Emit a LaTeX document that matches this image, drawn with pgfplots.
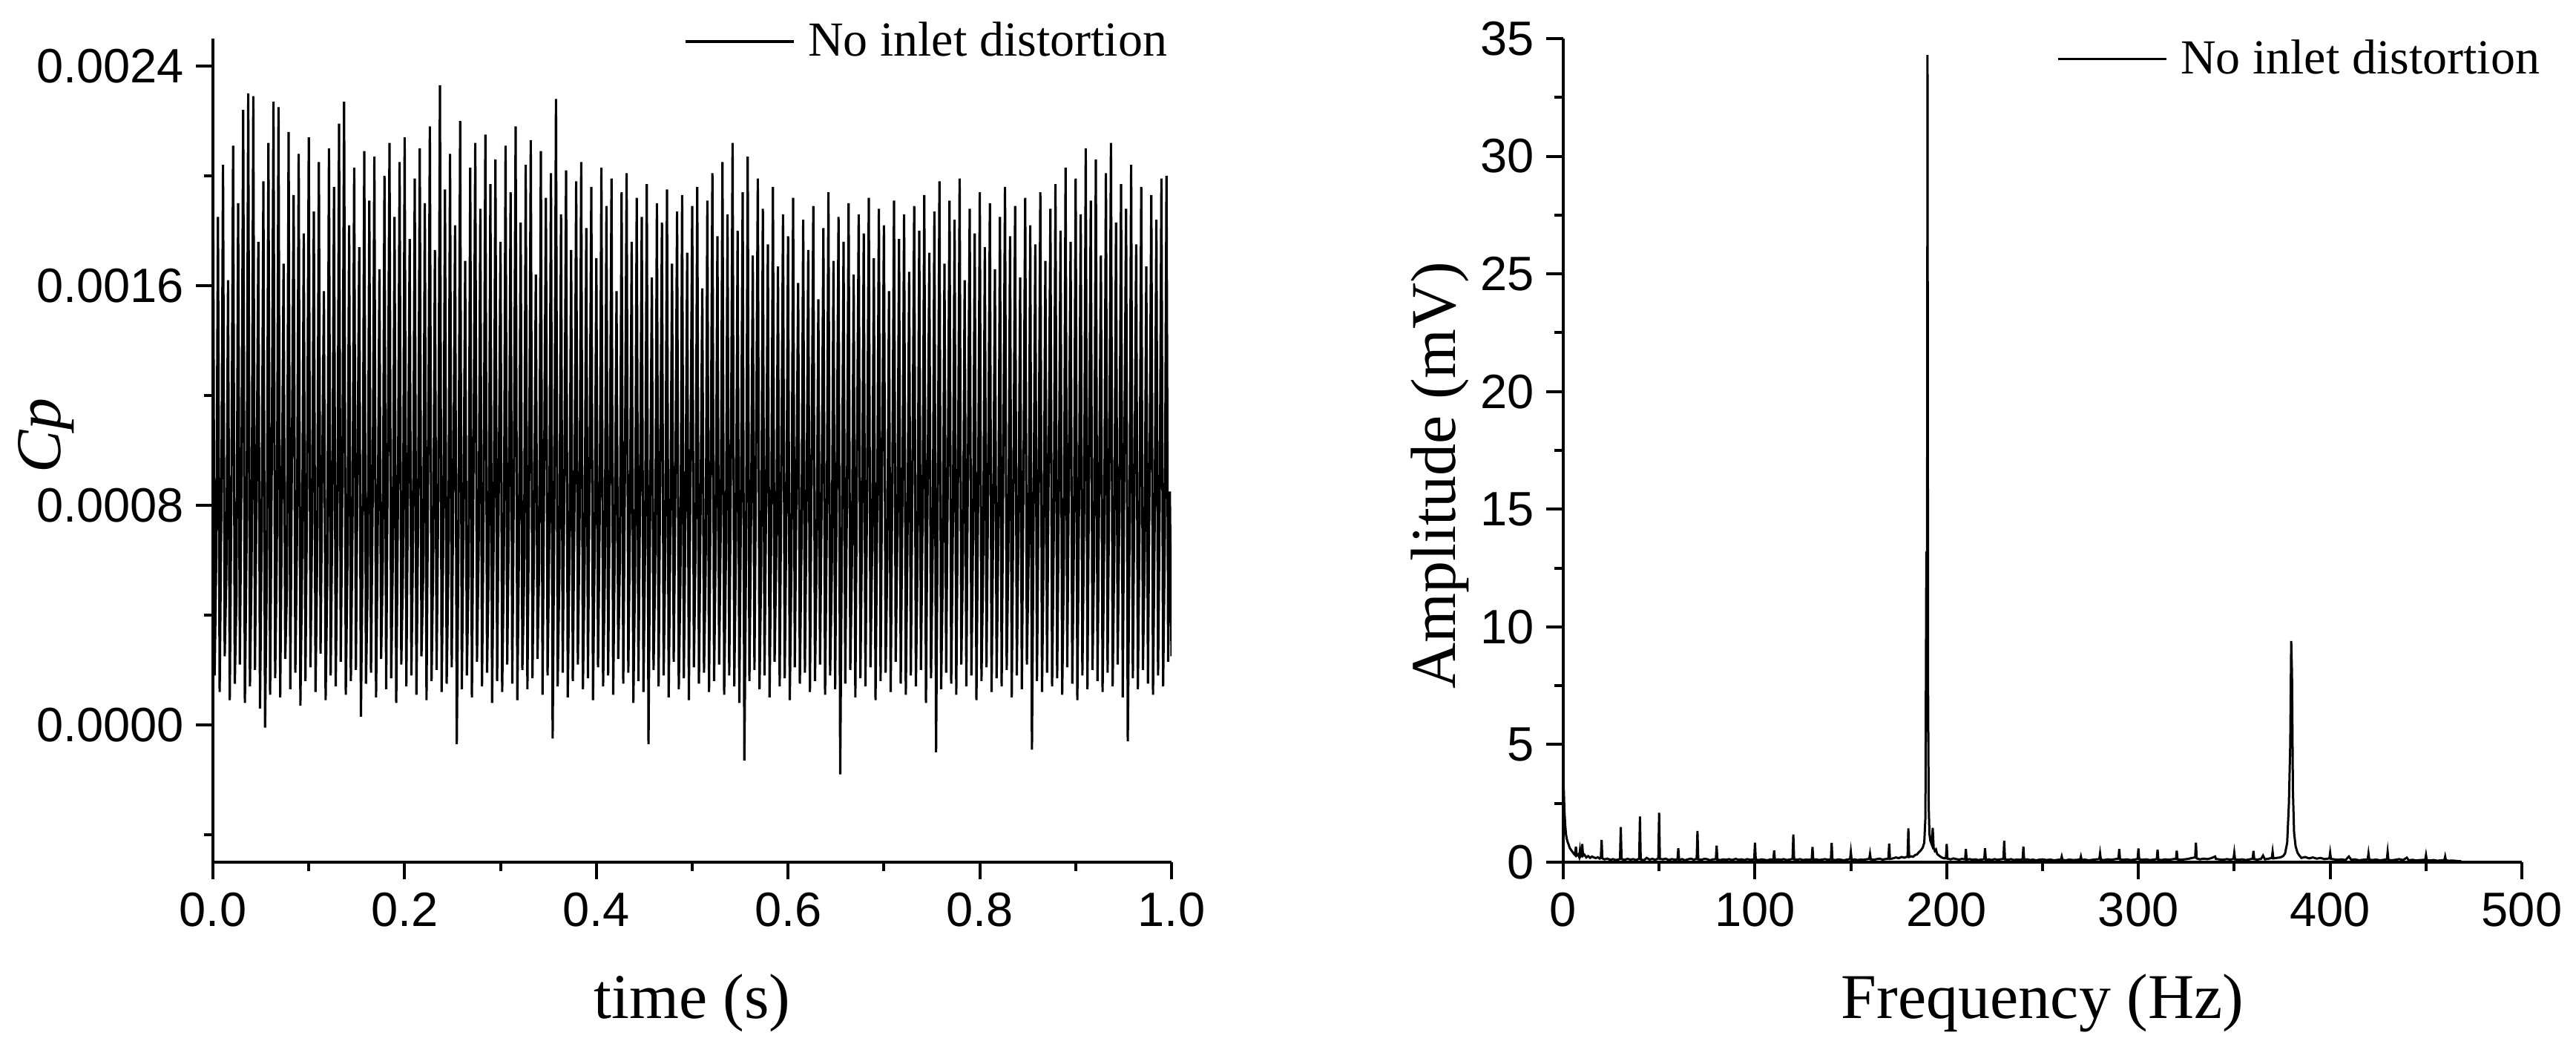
\documentclass[border=0pt]{standalone}
\usepackage{fontspec}
\setmainfont{Liberation Serif}
\setsansfont{Liberation Sans}
\usepackage{pgfplots}
\pgfplotsset{compat=1.18}
\pgfplotsset{
  refaxis/.style={
    scale only axis, width=258.4pt, height=222pt,
    axis lines=left,
    axis line style={-, line width=0.9pt, black},
    every outer x axis line/.append style={-},
    every outer y axis line/.append style={-},
    every inner x axis line/.append style={-},
    every inner y axis line/.append style={-},
    tick align=outside,
    major tick length=4.6pt, minor tick length=2.4pt,
    every tick/.style={line width=0.8pt, black},
    scaled ticks=false,
    /pgf/number format/assume math mode=true,
    tick label style={font=\fontsize{13}{15}\selectfont\sffamily, inner sep=0pt},
    xticklabel shift=3.4pt, yticklabel shift=3pt,
    label style={font=\fontsize{17.2}{20}\selectfont},
    legend style={draw=none, fill=none, inner sep=0pt, outer sep=0pt,
      nodes={inner sep=0pt}, font=\fontsize{13.2}{15}\selectfont},
    legend image code/.code={\draw[#1] (0pt,0pt) -- (29.2pt,0pt); \path (32.8pt,0pt);},
  }
}
\begin{document}
\begin{tikzpicture}
\useasboundingbox (0,0) rectangle (694.4pt,280.6pt);
\begin{axis}[refaxis,
  at={(57.4pt,48.2pt)}, anchor=south west,
  xmin=0, xmax=1, ymin=-0.0005, ymax=0.0025,
  xtick={0,0.2,0.4,0.6,0.8,1}, minor xtick={0.1,0.3,0.5,0.7,0.9},
  ytick={0,0.0008,0.0016,0.0024}, minor ytick={-0.0004,0.0004,0.0012,0.002},
  xticklabel style={/pgf/number format/.cd, fixed, fixed zerofill, precision=1},
  yticklabel style={/pgf/number format/.cd, fixed, fixed zerofill, precision=4},
  xlabel={time (s)}, ylabel={\itshape Cp},
  xlabel style={at={(axis description cs:0.5,-0.1901)}, anchor=base},
  ylabel style={at={(axis description cs:-0.1587,0.518)}, anchor=base},
  legend style={at={(axis description cs:0.9954,0.9964)}, anchor=east},
]
\addplot[black, line width=0.62pt] table[row sep=\\, y index=0, x expr=\coordindex/570] {
cp\\
0.00216\\0.00018\\0.00062\\
0.00185\\0.00012\\0.00078\\
0.00204\\0.00025\\0.00055\\
0.00162\\0.00009\\0.00084\\
0.00211\\0.00015\\0.00047\\
0.00190\\0.00022\\0.00093\\
0.00224\\0.00008\\0.00066\\
0.00230\\0.00014\\0.00058\\
0.00229\\0.00020\\0.00088\\
0.00176\\0.00006\\0.00071\\
0.00198\\-0.00001\\0.00052\\
0.00212\\0.00011\\0.00096\\
0.00227\\0.00017\\0.00063\\
0.00225\\0.00010\\0.00080\\
0.00168\\0.00024\\0.00049\\
0.00216\\0.00013\\0.00101\\
0.00193\\0.00019\\0.00068\\
0.00208\\0.00007\\0.00057\\
0.00179\\0.00016\\0.00085\\
0.00214\\0.00021\\0.00074\\
0.00187\\0.00012\\0.00061\\
0.00205\\0.00026\\0.00092\\
0.00158\\0.00009\\0.00054\\
0.00210\\0.00018\\0.00077\\
0.00196\\0.00014\\0.00066\\
0.00219\\0.00023\\0.00089\\
0.00227\\0.00011\\0.00059\\
0.00182\\0.00016\\0.00072\\
0.00203\\0.00020\\0.00095\\
0.00174\\0.00003\\0.00064\\
0.00209\\0.00015\\0.00051\\
0.00191\\0.00019\\0.00083\\
0.00207\\0.00010\\0.00070\\
0.00166\\0.00024\\0.00058\\
0.00200\\0.00013\\0.00099\\
0.00212\\0.00017\\0.00062\\
0.00185\\0.00008\\0.00079\\
0.00205\\0.00022\\0.00056\\
0.00214\\0.00014\\0.00087\\
0.00177\\0.00018\\0.00067\\
0.00199\\0.00011\\0.00074\\
0.00210\\0.00025\\0.00053\\
0.00190\\0.00009\\0.00094\\
0.00218\\0.00016\\0.00061\\
0.00173\\0.00020\\0.00082\\
0.00233\\0.00012\\0.00069\\
0.00195\\0.00015\\0.00057\\
0.00208\\0.00021\\0.00090\\
0.00182\\-0.00007\\0.00066\\
0.00220\\0.00013\\0.00075\\
0.00169\\0.00018\\0.00055\\
0.00203\\0.00010\\0.00097\\
0.00212\\0.00023\\0.00063\\
0.00188\\0.00014\\0.00081\\
0.00215\\0.00019\\0.00058\\
0.00197\\0.00008\\0.00072\\
0.00206\\0.00016\\0.00088\\
0.00176\\0.00012\\0.00060\\
0.00211\\0.00022\\0.00076\\
0.00194\\0.00015\\0.00093\\
0.00218\\0.00009\\0.00064\\
0.00183\\0.00020\\0.00052\\
0.00204\\0.00013\\0.00085\\
0.00213\\0.00017\\0.00070\\
0.00164\\0.00024\\0.00059\\
0.00209\\0.00011\\0.00096\\
0.00192\\0.00018\\0.00067\\
0.00201\\-0.00005\\0.00078\\
0.00228\\0.00014\\0.00055\\
0.00186\\0.00019\\0.00089\\
0.00202\\0.00010\\0.00062\\
0.00173\\0.00016\\0.00081\\
0.00198\\0.00022\\0.00071\\
0.00205\\0.00013\\0.00057\\
0.00181\\0.00017\\0.00094\\
0.00196\\0.00009\\0.00065\\
0.00170\\0.00021\\0.00076\\
0.00203\\0.00014\\0.00053\\
0.00189\\0.00018\\0.00087\\
0.00199\\0.00011\\0.00068\\
0.00158\\0.00024\\0.00060\\
0.00194\\0.00015\\0.00092\\
0.00201\\0.00019\\0.00073\\
0.00176\\0.00008\\0.00056\\
0.00192\\0.00016\\0.00084\\
0.00185\\0.00012\\0.00066\\
0.00197\\-0.00007\\0.00079\\
0.00163\\0.00020\\0.00058\\
0.00190\\0.00014\\0.00095\\
0.00183\\0.00018\\0.00063\\
0.00195\\0.00010\\0.00071\\
0.00168\\0.00023\\0.00086\\
0.00187\\0.00013\\0.00054\\
0.00193\\0.00017\\0.00077\\
0.00172\\0.00009\\0.00098\\
0.00189\\0.00021\\0.00065\\
0.00196\\0.00015\\0.00080\\
0.00159\\0.00019\\0.00057\\
0.00191\\0.00012\\0.00090\\
0.00201\\0.00016\\0.00068\\
0.00178\\0.00022\\0.00074\\
0.00205\\0.00011\\0.00059\\
0.00186\\0.00018\\0.00093\\
0.00212\\0.00014\\0.00066\\
0.00180\\0.00008\\0.00082\\
0.00194\\-0.00013\\0.00061\\
0.00207\\0.00016\\0.00076\\
0.00171\\0.00020\\0.00100\\
0.00199\\0.00013\\0.00057\\
0.00188\\0.00018\\0.00085\\
0.00175\\0.00010\\0.00070\\
0.00196\\0.00023\\0.00063\\
0.00167\\0.00014\\0.00091\\
0.00186\\0.00017\\0.00075\\
0.00178\\0.00009\\0.00058\\
0.00192\\0.00021\\0.00088\\
0.00161\\0.00015\\0.00067\\
0.00184\\0.00019\\0.00079\\
0.00173\\0.00012\\0.00096\\
0.00189\\0.00016\\0.00062\\
0.00155\\0.00022\\0.00084\\
0.00181\\0.00011\\0.00071\\
0.00194\\0.00018\\0.00055\\
0.00169\\0.00013\\0.00094\\
0.00185\\-0.00018\\0.00068\\
0.00176\\0.00015\\0.00081\\
0.00190\\0.00020\\0.00060\\
0.00164\\0.00010\\0.00097\\
0.00186\\0.00017\\0.00073\\
0.00179\\0.00014\\0.00086\\
0.00192\\0.00021\\0.00064\\
0.00170\\0.00009\\0.00078\\
0.00188\\0.00016\\0.00101\\
0.00182\\0.00019\\0.00059\\
0.00158\\0.00012\\0.00089\\
0.00191\\0.00023\\0.00070\\
0.00177\\0.00015\\0.00083\\
0.00186\\0.00011\\0.00066\\
0.00165\\0.00018\\0.00095\\
0.00189\\0.00014\\0.00061\\
0.00180\\0.00020\\0.00077\\
0.00193\\0.00008\\0.00088\\
0.00172\\0.00017\\0.00064\\
0.00187\\-0.00010\\0.00080\\
0.00198\\0.00013\\0.00056\\
0.00168\\0.00019\\0.00093\\
0.00191\\0.00015\\0.00072\\
0.00184\\0.00011\\0.00085\\
0.00199\\0.00022\\0.00062\\
0.00162\\0.00014\\0.00099\\
0.00188\\0.00018\\0.00069\\
0.00179\\0.00009\\0.00081\\
0.00194\\0.00016\\0.00058\\
0.00174\\0.00021\\0.00090\\
0.00190\\0.00012\\0.00075\\
0.00166\\0.00017\\0.00067\\
0.00185\\0.00014\\0.00096\\
0.00196\\0.00020\\0.00063\\
0.00178\\0.00010\\0.00084\\
0.00189\\0.00018\\0.00071\\
0.00163\\0.00013\\0.00092\\
0.00192\\0.00022\\0.00060\\
0.00182\\-0.00009\\0.00078\\
0.00175\\0.00016\\0.00087\\
0.00194\\0.00012\\0.00065\\
0.00169\\0.00019\\0.00098\\
0.00188\\0.00014\\0.00070\\
0.00197\\0.00017\\0.00082\\
0.00180\\0.00011\\0.00059\\
0.00203\\0.00021\\0.00094\\
0.00176\\0.00015\\0.00068\\
0.00199\\0.00009\\0.00080\\
0.00186\\0.00018\\0.00073\\
0.00210\\0.00013\\0.00097\\
0.00191\\0.00020\\0.00062\\
0.00206\\0.00016\\0.00086\\
0.00171\\0.00012\\0.00069\\
0.00201\\0.00019\\0.00091\\
0.00212\\0.00014\\0.00064\\
0.00183\\0.00022\\0.00078\\
0.00197\\0.00010\\0.00102\\
0.00188\\-0.00006\\0.00066\\
0.00204\\0.00017\\0.00089\\
0.00175\\0.00013\\0.00072\\
0.00196\\0.00020\\0.00060\\
0.00167\\0.00015\\0.00095\\
0.00193\\0.00011\\0.00074\\
0.00184\\0.00018\\0.00083\\
0.00199\\0.00014\\0.00067\\
0.00200\\0.00023\\0.00085\\
0.00025\\
};
\addlegendentry{No inlet distortion}
\end{axis}
\begin{axis}[refaxis,
  at={(421.4pt,48.2pt)}, anchor=south west,
  xmin=0, xmax=500, ymin=0, ymax=35,
  xtick={0,100,200,300,400,500}, minor xtick={50,150,250,350,450},
  ytick={0,5,10,15,20,25,30,35}, minor ytick={2.5,7.5,12.5,17.5,22.5,27.5,32.5},
  xlabel={Frequency (Hz)}, ylabel={Amplitude (mV)},
  xlabel style={at={(axis description cs:0.5,-0.1901)}, anchor=base},
  ylabel style={at={(axis description cs:-0.1124,0.470)}, anchor=base},
  legend style={at={(axis description cs:1.0186,0.9748)}, anchor=east},
]
\addplot[black, line width=0.6pt] table[row sep=\\] {
f a\\
0 3.4\\ 0.3 3.0\\ 0.6 2.2\\ 1.0 1.6\\ 1.4 1.2\\ 1.8 1.0\\ 2.3 0.85\\ 2.8 0.75\\ 3.3 0.62\\ 3.8 0.55\\
4.4 0.48\\ 5.0 0.42\\ 5.6 0.35\\ 6.2 0.30\\ 6.6 0.66\\ 7.0 0.28\\ 7.8 0.33\\ 8.3 0.22\\ 8.7 0.50\\ 9.1 0.25\\
9.6 0.30\\ 9.9 0.77\\ 10.3 0.27\\ 11.0 0.32\\ 12.0 0.20\\ 13.0 0.26\\ 14.0 0.18\\ 15.0 0.24\\ 16.0 0.20\\ 17.0 0.17\\
18.0 0.21\\ 19.0 0.15\\ 19.6 0.18\\ 20.0 0.95\\ 20.4 0.16\\ 21.5 0.12\\ 23.0 0.15\\ 24.5 0.10\\ 26.0 0.13\\ 27.5 0.09\\
29.0 0.12\\ 29.6 0.14\\ 30.0 1.49\\ 30.4 0.13\\ 32.0 0.10\\ 33.5 0.14\\ 35.0 0.11\\ 36.5 0.13\\ 38.0 0.09\\ 39.6 0.15\\
40.0 1.94\\ 40.4 0.12\\ 42.0 0.08\\ 43.5 0.18\\ 45.0 0.11\\ 46.5 0.14\\ 48.0 0.10\\ 49.6 0.16\\ 50.0 2.10\\ 50.4 0.14\\
52.0 0.12\\ 53.5 0.15\\ 55.0 0.09\\ 56.5 0.13\\ 58.0 0.11\\ 59.6 0.12\\ 60.0 0.59\\ 60.4 0.10\\ 62.0 0.13\\ 63.5 0.08\\
65.0 0.12\\ 66.5 0.15\\ 68.0 0.11\\ 69.6 0.14\\ 70.0 1.33\\ 70.4 0.12\\ 72.0 0.10\\ 73.5 0.14\\ 75.0 0.13\\ 76.5 0.08\\
78.0 0.12\\ 79.6 0.13\\ 80.0 0.70\\ 80.4 0.11\\ 82.0 0.09\\ 83.5 0.12\\ 85.0 0.10\\ 86.5 0.13\\ 88.0 0.09\\ 90.0 0.14\\
91.5 0.10\\ 93.0 0.12\\ 94.5 0.09\\ 96.0 0.13\\ 97.5 0.10\\ 99.6 0.12\\ 100.0 0.83\\ 100.4 0.11\\ 102.0 0.09\\ 103.5 0.12\\
105.0 0.10\\ 106.5 0.08\\ 108.0 0.12\\ 109.6 0.10\\ 110.0 0.50\\ 110.4 0.09\\ 112.0 0.12\\ 113.5 0.10\\ 115.0 0.13\\ 116.5 0.09\\
118.0 0.11\\ 119.6 0.14\\ 120.0 1.18\\ 120.4 0.12\\ 122.0 0.10\\ 123.5 0.13\\ 125.0 0.09\\ 126.5 0.11\\ 128.0 0.10\\ 129.6 0.12\\
130.0 0.65\\ 130.4 0.10\\ 132.0 0.12\\ 133.5 0.09\\ 135.0 0.11\\ 136.5 0.13\\ 138.0 0.10\\ 139.6 0.12\\ 140.0 0.82\\ 140.4 0.11\\
142.0 0.09\\ 143.5 0.12\\ 145.0 0.10\\ 146.5 0.08\\ 148.0 0.11\\ 149.6 0.13\\ 150.0 0.43\\ 150.4 0.10\\ 152.0 0.12\\ 153.5 0.09\\
155.0 0.11\\ 156.5 0.10\\ 158.0 0.12\\ 159.6 0.14\\ 160.0 0.35\\ 160.4 0.12\\ 162.0 0.10\\ 163.5 0.13\\ 165.0 0.15\\ 166.5 0.11\\
168.0 0.13\\ 169.6 0.15\\ 170.0 0.79\\ 170.4 0.14\\ 172.0 0.16\\ 173.5 0.20\\ 175.0 0.17\\ 176.5 0.22\\ 178.0 0.19\\ 179.6 0.24\\
180.0 1.44\\ 180.4 0.22\\ 181.5 0.25\\ 182.5 0.23\\ 183.5 0.30\\ 184.5 0.33\\ 185.5 0.42\\ 186.5 0.50\\ 187.5 0.62\\ 188.3 0.83\\
188.9 1.9\\ 189.4 13.2\\ 189.7 6.5\\ 190.0 34.3\\ 190.3 7.0\\ 190.6 2.4\\ 191.0 1.2\\ 191.5 0.9\\ 192.2 0.75\\ 192.7 1.46\\
193.2 0.6\\ 193.8 0.48\\ 194.4 0.54\\ 195.0 0.35\\ 196.0 0.28\\ 197.0 0.22\\ 198.0 0.18\\ 199.0 0.16\\ 199.6 0.17\\ 200.0 0.77\\
200.4 0.15\\ 202.0 0.12\\ 203.5 0.16\\ 205.0 0.13\\ 206.5 0.11\\ 208.0 0.14\\ 209.6 0.12\\ 210.0 0.56\\ 210.4 0.11\\ 212.0 0.13\\
213.5 0.10\\ 215.0 0.12\\ 216.5 0.09\\ 218.0 0.11\\ 219.6 0.13\\ 220.0 0.59\\ 220.4 0.10\\ 222.0 0.12\\ 223.5 0.09\\ 225.0 0.13\\
226.5 0.10\\ 228.0 0.12\\ 229.6 0.14\\ 230.0 0.91\\ 230.4 0.12\\ 232.0 0.10\\ 233.5 0.13\\ 235.0 0.09\\ 236.5 0.11\\ 238.0 0.10\\
239.6 0.12\\ 240.0 0.66\\ 240.4 0.10\\ 242.0 0.12\\ 243.5 0.09\\ 245.0 0.11\\ 246.5 0.08\\ 248.0 0.10\\ 250.0 0.12\\ 252.0 0.09\\
254.0 0.11\\ 256.0 0.08\\ 258.0 0.10\\ 259.6 0.11\\ 260.0 0.24\\ 260.4 0.10\\ 262.0 0.08\\ 264.0 0.11\\ 266.0 0.09\\ 268.0 0.10\\
269.6 0.11\\ 270.0 0.24\\ 270.4 0.09\\ 272.0 0.11\\ 274.0 0.08\\ 276.0 0.10\\ 278.0 0.12\\ 279.6 0.13\\ 280.0 0.37\\ 280.4 0.11\\
282.0 0.09\\ 284.0 0.12\\ 286.0 0.10\\ 288.0 0.13\\ 289.6 0.15\\ 290.0 0.56\\ 290.4 0.12\\ 292.0 0.10\\ 294.0 0.12\\ 296.0 0.09\\
298.0 0.11\\ 299.6 0.14\\ 300.0 0.58\\ 300.4 0.12\\ 302.0 0.10\\ 304.0 0.12\\ 306.0 0.09\\ 308.0 0.11\\ 309.6 0.13\\ 310.0 0.53\\
310.4 0.11\\ 312.0 0.09\\ 314.0 0.12\\ 316.0 0.10\\ 318.0 0.13\\ 319.6 0.14\\ 320.0 0.49\\ 320.4 0.12\\ 322.0 0.10\\ 324.0 0.12\\
326.0 0.14\\ 328.0 0.18\\ 329.6 0.20\\ 330.0 0.83\\ 330.4 0.16\\ 332.0 0.12\\ 334.0 0.15\\ 336.0 0.13\\ 338.0 0.17\\ 340.0 0.24\\
340.4 0.14\\ 342.0 0.12\\ 344.0 0.10\\ 346.0 0.13\\ 348.0 0.11\\ 349.6 0.14\\ 350.0 0.40\\ 350.4 0.12\\ 352.0 0.10\\ 354.0 0.12\\
356.0 0.09\\ 358.0 0.12\\ 359.6 0.15\\ 360.0 0.48\\ 360.4 0.13\\ 362.0 0.11\\ 364.0 0.14\\ 365.0 0.28\\ 366.0 0.12\\ 368.0 0.15\\
369.6 0.18\\ 370.0 0.44\\ 370.4 0.16\\ 372.0 0.18\\ 374.0 0.20\\ 375.5 0.26\\ 376.5 0.37\\ 377.6 0.83\\ 378.5 2.5\\ 379.2 5.0\\
379.7 9.4\\ 380.1 8.0\\ 380.6 3.0\\ 381.2 1.25\\ 382.0 0.67\\ 383.0 0.40\\ 383.8 0.30\\ 385.0 0.18\\ 387.0 0.22\\ 389.0 0.16\\
391.0 0.20\\ 393.0 0.15\\ 395.0 0.18\\ 397.0 0.13\\ 399.6 0.16\\ 400.0 0.40\\ 400.4 0.14\\ 402.0 0.12\\ 404.0 0.10\\ 406.0 0.12\\
408.0 0.09\\ 409.8 0.24\\ 411.0 0.10\\ 413.0 0.12\\ 415.0 0.08\\ 417.0 0.10\\ 419.6 0.12\\ 420.0 0.37\\ 420.4 0.11\\ 422.0 0.09\\
424.0 0.11\\ 426.0 0.08\\ 428.0 0.10\\ 429.6 0.12\\ 430.0 0.43\\ 430.4 0.10\\ 432.0 0.08\\ 434.0 0.10\\ 436.0 0.13\\ 438.0 0.09\\
440.0 0.19\\ 441.0 0.08\\ 443.0 0.10\\ 445.0 0.07\\ 447.0 0.09\\ 449.6 0.10\\ 450.0 0.30\\ 450.4 0.09\\ 452.0 0.07\\ 454.0 0.09\\
456.0 0.06\\ 458.0 0.08\\ 459.6 0.09\\ 460.0 0.24\\ 460.4 0.08\\ 462.0 0.06\\ 464.0 0.07\\ 466.0 0.05\\ 468.0 0.04\\ 468.7 0\\
500 0\\
};
\addlegendentry{No inlet distortion}
\end{axis}
\end{tikzpicture}
\end{document}
